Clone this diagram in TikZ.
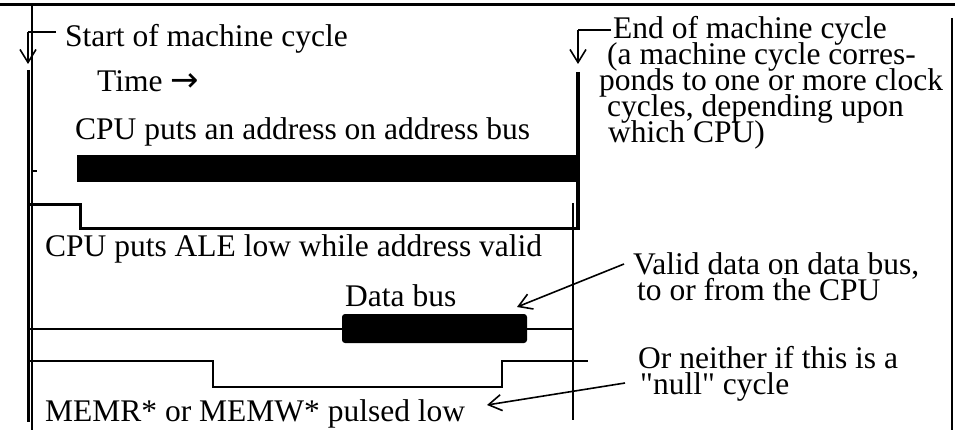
\documentclass[tikz,border=0pt]{standalone}
\usepackage{fontspec}
\setmainfont{Liberation Serif}[Ligatures=TeXOff]
\newfontfamily\arrowfont{DejaVu Sans}
\newcommand\mytightlines{\lineskiplimit=-50pt\relax\lineskip=0pt\relax}
\usetikzlibrary{arrows.meta}
\begin{document}
\begin{tikzpicture}[x=1pt,y=-1pt,
  lbl/.style={anchor=base west,inner sep=0pt,align=left,font=\fontsize{31.5}{26}\selectfont\mytightlines},
  wire/.style={line width=2pt},
  heavywire/.style={line width=3pt},
  busbar/.style={fill=black,draw=none},
  pointer/.style={line width=1.6pt,-{Straight Barb[length=13pt,width=16pt,line width=1.6pt]}},
]
\useasboundingbox (0,0) rectangle (955,430);
% frame
\draw[heavywire] (0,5) -- (955,5);
\draw[wire] (32,5) -- (32,430);
\draw[wire] (952,18) -- (952,430);

% start of machine cycle
\coordinate (sd) at (56,32);
\coordinate (s0) at (28,32);
\coordinate (s1) at (28,64);
\draw[wire] (sd) -- (s0);
\draw[pointer] (s0) -- (s1);
\coordinate (st) at (28,70);
\coordinate (sb) at (28,422);
\draw[heavywire] (st) -- (sb);
\coordinate (tk0) at (32,171);
\coordinate (tk1) at (37,171);
\draw[wire] (tk0) -- (tk1);
\node[lbl] (start) at (65,47) {Start of machine cycle};

% end of machine cycle
\coordinate (ed) at (611,30);
\coordinate (e0) at (578,30);
\coordinate (e1) at (578,64);
\draw[wire] (ed) -- (e0);
\draw[pointer] (e0) -- (e1);
\coordinate (et) at (578,72);
\coordinate (em) at (578,230);
\draw[line width=4pt] (et) -- (em);
\coordinate (lt) at (573,203);
\coordinate (lb) at (573,420);
\draw[wire] (lt) -- (lb);
\node[lbl] (endnote) at (599,143) {\hspace*{14pt}End of machine cycle\\
  \hspace*{8pt}(a machine cycle corres-\\
  ponds to one or more clock\\
  \hspace*{8pt}cycles, depending upon\\
  \hspace*{9pt}which CPU)};

% time
\node[lbl] (time) at (97,92) {Time {\arrowfont\fontsize{34}{34}\selectfont →}};

% address bus
\node[lbl] (addr) at (75,140) {CPU puts an address on address bus};
\fill[busbar] (77,155) rectangle (578,182);

% ALE
\coordinate (a0) at (30,205);
\coordinate (a1) at (80,205);
\coordinate (a2) at (80,229);
\coordinate (a3) at (578,229);
\draw[heavywire] (a0) -- (a1) -- (a2) -- (a3);
\node[lbl] (ale) at (45,257) {CPU puts ALE low while address valid};

% data bus
\node[lbl] (dbus) at (345,306) {Data bus};
\coordinate (d0) at (28,329);
\coordinate (d1) at (342,329);
\coordinate (d2) at (527,329);
\coordinate (d3) at (573,329);
\draw[wire] (d0) -- (d1);
\fill[busbar,rounded corners=3pt] (342,314) rectangle (527,343);
\draw[wire] (d2) -- (d3);
\node[lbl] (valid) at (633,300) {Valid data on data bus,\\
  \hspace*{4pt}to or from the CPU};
\coordinate (vs) at (624,264);
\coordinate (vt) at (517,307);
\draw[pointer] (vs) -- (vt);

% MEMR / MEMW
\coordinate (m0) at (28,361);
\coordinate (m1) at (213,361);
\coordinate (m2) at (213,387);
\coordinate (m3) at (502,387);
\coordinate (m4) at (502,361);
\coordinate (m5) at (588,361);
\draw[wire] (m0) -- (m1) -- (m2) -- (m3) -- (m4) -- (m5);
\node[lbl] (mem) at (45,421) {MEMR* or MEMW* pulsed low};
\node[lbl] (null) at (638,394) {Or neither if this is a\\
  \hspace*{2pt}"null" cycle};
\coordinate (ns) at (625,383);
\coordinate (nt) at (487,405);
\draw[pointer] (ns) -- (nt);
\end{tikzpicture}
\end{document}
